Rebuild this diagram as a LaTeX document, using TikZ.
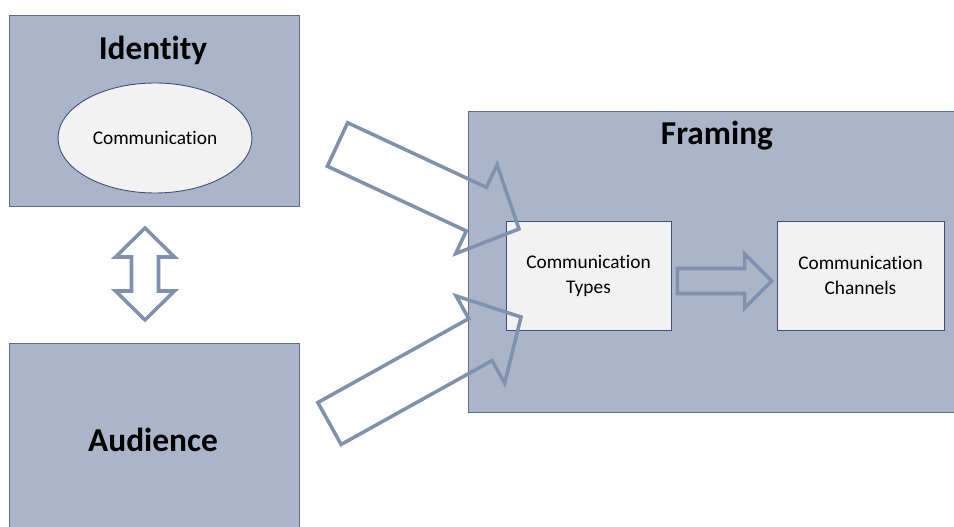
\documentclass[tikz,border=0pt]{standalone}
\usepackage{fontspec}
\setmainfont{Carlito}[Ligatures=NoCommon]
\usetikzlibrary{calc,shapes.geometric}
\definecolor{boxblue}{RGB}{170,181,201}
\definecolor{boxedge}{RGB}{94,110,142}
\definecolor{inneredge}{RGB}{60,78,124}
\definecolor{paleface}{RGB}{242,242,242}
\definecolor{arrowgray}{RGB}{128,145,173}

\tikzset{
  bigbox/.style={draw=boxedge, fill=boxblue, line width=0.5pt, inner sep=0pt},
  smallbox/.style={draw=inneredge, fill=paleface, line width=0.5pt, inner sep=0pt,
    minimum height=2.18cm, align=center, font=\fontsize{11}{14.2}\selectfont},
  boxtitle/.style={font=\bfseries\fontsize{19}{22}\selectfont, anchor=base},
  blockarr/.style={draw=arrowgray, line width=2pt, line join=miter},
}

% block arrow: tail, tip, half shaft, half head, head length
\newcommand{\blockarrow}[5]{%
  \coordinate (hb) at ($(#2)!#5!(#1)$);
  \draw[blockarr] ($(#1)!#3!90:(#2)$) -- ($(hb)!#3!-90:(#1)$) -- ($(hb)!#4!-90:(#1)$) -- (#2)
    -- ($(hb)!#4!90:(#1)$) -- ($(hb)!#3!90:(#1)$) -- ($(#1)!#3!-90:(#2)$) -- cycle;
}
% two-way block arrow: tip, tip, half shaft, half head, head length
\newcommand{\twowayarrow}[5]{%
  \coordinate (ha) at ($(#1)!#5!(#2)$);
  \coordinate (hb) at ($(#2)!#5!(#1)$);
  \draw[blockarr] (#1) -- ($(ha)!#4!90:(#2)$) -- ($(ha)!#3!90:(#2)$) -- ($(hb)!#3!-90:(#1)$)
    -- ($(hb)!#4!-90:(#1)$) -- (#2) -- ($(hb)!#4!90:(#1)$) -- ($(hb)!#3!90:(#1)$)
    -- ($(ha)!#3!-90:(#2)$) -- ($(ha)!#4!-90:(#2)$) -- cycle;
}

\begin{document}
\begin{tikzpicture}[x=0.02cm,y=-0.02cm]
  \useasboundingbox (0,0) rectangle (954,527);

  % left column
  \node[bigbox, minimum width=5.8cm, minimum height=3.82cm] (identity) at (154,110.5) {};
  \node[boxtitle] (identitytitle) at (153,60) {Identity};
  \node[ellipse, draw=inneredge, fill=paleface, line width=0.5pt, inner sep=0pt,
        minimum width=3.88cm, minimum height=2.2cm, font=\fontsize{11}{14.2}\selectfont]
        (comm) at (155,138) {Communication};
  \node[bigbox, minimum width=5.8cm, minimum height=3.74cm] (audience) at (154,436.5) {};
  \node[boxtitle] (audiencetitle) at (153,451) {Audience};

  % framing
  \node[bigbox, minimum width=9.84cm, minimum height=6.02cm] (framing) at (714,261.5) {};
  \node[boxtitle] (framingtitle) at (717,145) {Framing};
  \node[smallbox, minimum width=3.3cm] (types) at (588.5,275.5) {Communication\\Types};
  \node[smallbox, minimum width=3.34cm] (channels) at (860.5,275.5) {Communication\\Channels};

  % arrows
  \coordinate (idarr) at (145,228);
  \coordinate (audarr) at (145,320);
  \coordinate (idout) at (337.5,144.5);
  \coordinate (typesin) at (519,229);
  \coordinate (audout) at (329.5,423.5);
  \coordinate (typesinlow) at (521,317);
  \coordinate (typesout) at ($(types.east)+(6,5.5)$);
  \coordinate (channelsin) at ($(channels.west)+(-5,5.5)$);

  \twowayarrow{idarr}{audarr}{0.27cm}{0.59cm}{0.58cm}
  \blockarrow{idout}{typesin}{0.48cm}{0.98cm}{0.94cm}
  \blockarrow{audout}{typesinlow}{0.48cm}{1cm}{0.93cm}
  \blockarrow{typesout}{channelsin}{0.25cm}{0.54cm}{0.54cm}
\end{tikzpicture}
\end{document}
